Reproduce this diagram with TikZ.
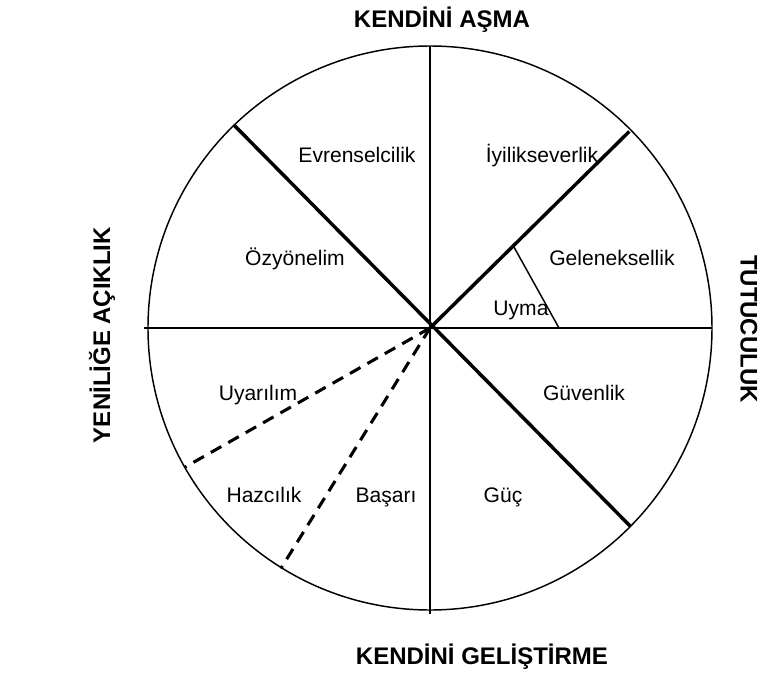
\documentclass[tikz,border=0pt]{standalone}
\usepackage{fontspec}
\setmainfont{Liberation Sans}
\usetikzlibrary{positioning}
\tikzstyle{value} = [font=\fontsize{15.8}{18}\selectfont, inner sep=0pt, anchor=base]
\tikzstyle{pole} = [font=\fontsize{18}{20}\selectfont\bfseries, inner sep=0pt]
\tikzstyle{axis} = [line width=1.1pt]
\tikzstyle{border} = [line width=2.6pt]
\tikzstyle{soft} = [line width=2.3pt, dash pattern=on 9pt off 6pt]

\begin{document}
\begin{tikzpicture}[x=0.75pt,y=0.75pt]
      \useasboundingbox (-430,-347) rectangle (337,328);
      \coordinate (c) at (0,0);
      \coordinate (n) at (0,282);
      \coordinate (s) at (0,-286);
      \coordinate (w) at (-286,0);
      \coordinate (e) at (282,0);
      \coordinate (nw) at (134:282);
      \coordinate (se) at (-44.7:282);
      \coordinate (ne) at (44.6:280);
      \coordinate (sw1) at (209.6:282);
      \coordinate (sw2) at (238.2:283);
      \coordinate (u1) at (44.6:117);
      \coordinate (u2) at (129,0);
      % circle and axes
      \draw[axis] (c) circle (282);
      \draw[axis] (n)--(s);
      \draw[axis] (w)--(e);
      \draw[axis] (u1)--(u2);
      \draw[border] (nw)--(se);
      \draw[border] (c)--(ne);
      \draw[soft] (c)--(sw1);
      \draw[soft] (c)--(sw2);
      % values
      \node[value] (evr) at (-73,166) {Evrenselcilik};
      \node[value] (iyi) at (112,166) {İyilikseverlik};
      \node[value] (ozy) at (-135,63) {Özyönelim};
      \node[value] (gel) at (182,63) {Geleneksellik};
      \node[value] (uym) at (91,13) {Uyma};
      \node[value] (uya) at (-172,-72) {Uyarılım};
      \node[value] (guv) at (154,-72) {Güvenlik};
      \node[value] (haz) at (-166,-174) {Hazcılık};
      \node[value] (bas) at (-44,-174) {Başarı};
      \node[value] (guc) at (73,-174) {Güç};
      % poles
      \node[pole] (top) at (12,308) {KENDİNİ AŞMA};
      \node[pole] (bottom) at (52,-329) {KENDİNİ GELİŞTİRME};
      \node[pole, rotate=90] (left) at (-328,-7) {YENİLİĞE AÇIKLIK};
      \node[pole, rotate=-90] (right) at (319,-1) {TUTUCULUK};
\end{tikzpicture}
\end{document}
